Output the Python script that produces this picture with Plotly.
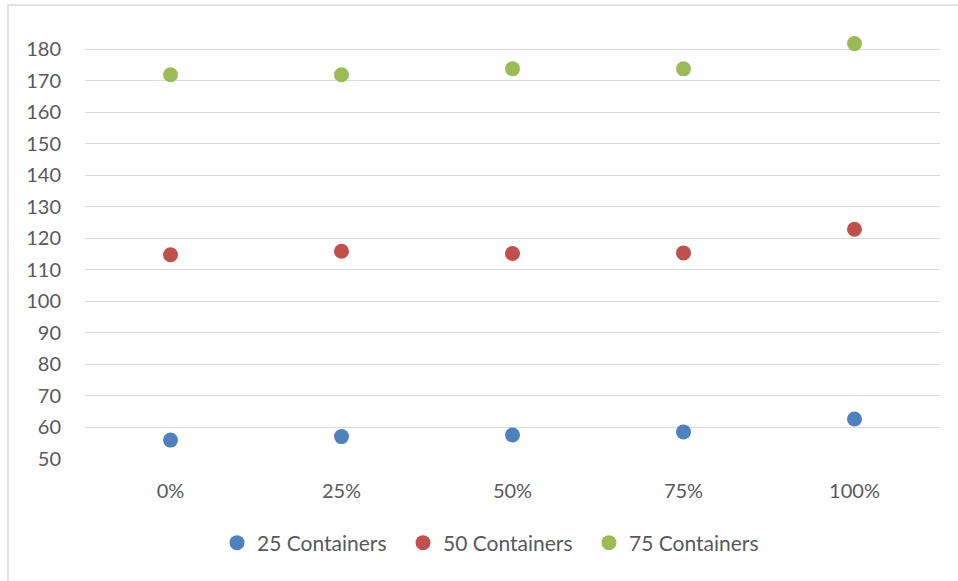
import plotly.graph_objects as go

# Share of load (categories) and measured values per container count
categories = ["0%", "25%", "50%", "75%", "100%"]
series_names = ["25 Containers", "50 Containers", "75 Containers"]
values_25 = [56.0, 57.1, 57.6, 58.6, 62.7]
values_50 = [114.8, 115.9, 115.2, 115.4, 122.9]
values_75 = [171.9, 171.9, 173.8, 173.8, 181.8]
colors = ["#4f81bd", "#c0504d", "#9bbb59"]
y_ticks = list(range(50, 181, 10))

fig = go.Figure()
for name, vals, col in zip(series_names, [values_25, values_50, values_75], colors):
    fig.add_trace(go.Scatter(
        x=categories, y=vals, name=name, mode="markers",
        marker=dict(size=15, color=col, line=dict(width=0)),
        cliponaxis=False,
    ))

font_family = "Lato, 'Open Sans', sans-serif"
fig.update_layout(
    width=958, height=581,
    margin=dict(l=85, r=18, t=40, b=122),
    paper_bgcolor="white", plot_bgcolor="white",
    font=dict(family=font_family, size=20, color="#595959"),
    showlegend=True,
    legend=dict(
        orientation="h", x=0.1544, xanchor="left", y=-0.2005, yanchor="middle",
        font=dict(size=21, color="#595959"),
        itemwidth=30, entrywidth=141, entrywidthmode="pixels",
        bgcolor="rgba(0,0,0,0)",
    ),
    xaxis=dict(
        type="category", categoryorder="array", categoryarray=categories,
        range=[-0.5, 4.5],
        showgrid=False, zeroline=False, showline=False,
        ticks="", ticklabelstandoff=18,
        tickfont=dict(size=20, color="#595959"),
    ),
    yaxis=dict(
        range=[50, 182.95], tickvals=y_ticks, ticktext=[str(v) for v in y_ticks],
        showgrid=True, gridcolor="#d9d9d9", gridwidth=1.3,
        zeroline=False, showline=False, ticks="", ticklabelstandoff=23,
        tickfont=dict(size=20, color="#595959"),
    ),
    shapes=[dict(
        type="rect", xref="paper", yref="paper",
        x0=-0.0901, x1=1.03, y0=-0.30, y1=1.0835,
        line=dict(color="#d9d9d9", width=1.5), fillcolor="rgba(0,0,0,0)",
        layer="below",
    )],
)

fig.write_html("out.html")
